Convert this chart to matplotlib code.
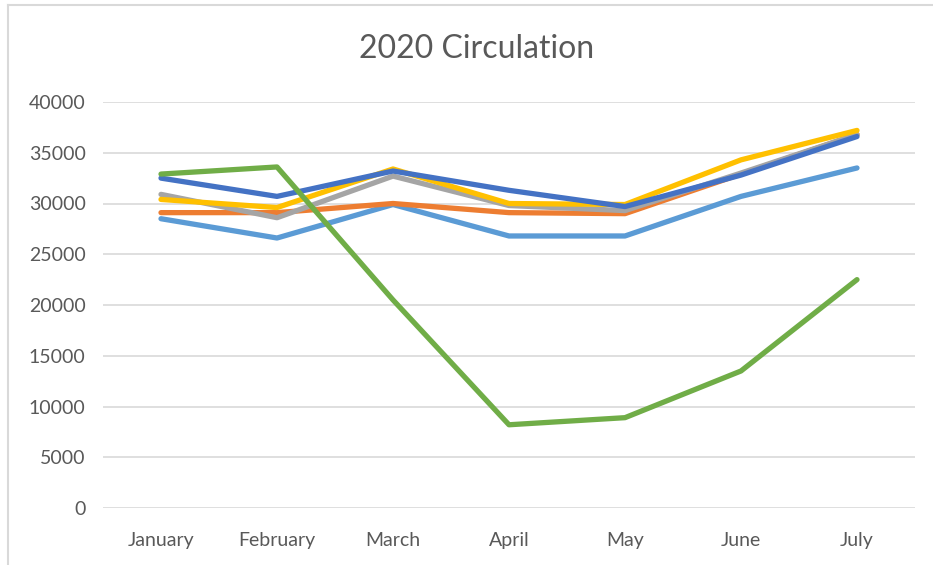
import matplotlib
matplotlib.use("Agg")
import matplotlib.pyplot as plt
from matplotlib.lines import Line2D

months = ["January", "February", "March", "April", "May", "June", "July"]
series_names = ["Series 1", "Series 2", "Series 3", "Series 4", "Series 5", "Series 6"]
light_blue = [28500, 26600, 29900, 26800, 26800, 30700, 33500]
orange = [29100, 29100, 30000, 29100, 29000, 32900, 36800]
gray = [30900, 28600, 32700, 29800, 29300, 33000, 36800]
yellow = [30400, 29600, 33400, 30000, 29900, 34300, 37200]
dark_blue = [32500, 30700, 33200, 31300, 29700, 32800, 36600]
green = [32900, 33600, 20500, 8200, 8900, 13500, 22500]
y_ticks = [0, 5000, 10000, 15000, 20000, 25000, 30000, 35000, 40000]

colors = ["#5B9BD5", "#ED7D31", "#A5A5A5", "#FFC000", "#4472C4", "#70AD47"]
all_series = [light_blue, orange, gray, yellow, dark_blue, green]

plt.rcParams['font.family'] = ['Lato', 'DejaVu Sans']

W, H = 933, 565
fig = plt.figure(figsize=(W / 100, H / 100), dpi=100)
fig.patch.set_facecolor("white")

ax = fig.add_axes([103 / W, 1 - 508 / H, (915 - 103) / W, (508 - 102) / H])
x = list(range(len(months)))
for name, vals, c in zip(series_names, all_series, colors):
    ax.plot(x, vals, color=c, linewidth=3.8, solid_capstyle="round",
            solid_joinstyle="round", label=name, zorder=3)

ax.set_xlim(-0.5, len(months) - 0.5)
ax.set_ylim(0, 40000)
ax.set_yticks(y_ticks)
ax.set_yticklabels([str(v) for v in y_ticks])
ax.set_xticks(x)
ax.set_xticklabels(months)
ax.grid(axis="y", color="#D9D9D9", linewidth=1.2, zorder=0)
ax.grid(axis="x", visible=False)
for s in ax.spines.values():
    s.set_visible(False)
ax.tick_params(axis="both", length=0, colors="#595959", labelsize=14)
ax.tick_params(axis="y", pad=12.5)
ax.tick_params(axis="x", pad=17)

fig.text(477 / W, 1 - 49 / H, "2020 Circulation", ha="center", va="center",
         fontsize=23, color="#595959")

# chart border
fig.add_artist(Line2D([8 / W, 8 / W], [0, 1 - 5 / H], transform=fig.transFigure,
                      color="#D9D9D9", linewidth=1.5))
fig.add_artist(Line2D([8 / W, 1], [1 - 5 / H, 1 - 5 / H], transform=fig.transFigure,
                      color="#D9D9D9", linewidth=1.5))

fig.savefig("out.png", dpi=100)
